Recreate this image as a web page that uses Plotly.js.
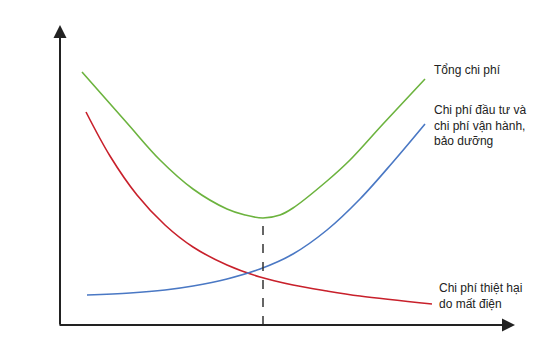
<!DOCTYPE html>
<html>
<head>
<meta charset="utf-8">
<script src="https://cdn.plot.ly/plotly-3.0.1.min.js"></script>
<style>html,body{margin:0;padding:0;background:#fff;}#chart{width:549px;height:355px;}</style>
</head>
<body>
<div id="chart"></div>
<script>
// Tổng chi phí (total cost)
const totalX = [22, 67, 100, 133, 167, 185, 203, 220, 233, 267, 290, 323, 365];
const totalY = [253, 202, 165, 136, 116, 110, 107, 110, 117, 144, 165, 201, 246];
// Chi phí đầu tư và vận hành, bảo dưỡng (investment + O&M cost)
const investX = [27, 70, 105, 133, 167, 200, 233, 267, 300, 333, 365];
const investY = [30, 32, 35, 39, 46, 56, 71, 95, 126, 163, 201];
// Chi phí thiệt hại do mất điện (outage loss cost)
const lossX = [26, 50, 77, 105, 133, 167, 200, 233, 267, 300, 372];
const lossY = [213, 169, 130, 100, 78, 60, 48, 40, 34, 29, 21];

const labels = {
  yAxis: 'Chi phí',
  xAxis: 'Mức đầu tư',
  optimum: 'Điểm tối ưu',
  total: 'Tổng chi phí',
  invest: 'Chi phí đầu tư và<br>chi phí vận hành,<br>bảo dưỡng',
  loss: 'Chi phí thiệt hại<br>do mất điện'
};

const XMAX = 455, YMAX = 300;
let minIdx = 0;
totalY.forEach((v, i) => { if (v < totalY[minIdx]) minIdx = i; });
const optX = totalX[minIdx], optY = totalY[minIdx];

const font = {family: 'Liberation Sans, Arial, sans-serif', size: 12, color: '#222'};
const lineT = (x, y, color) => ({x, y, mode: 'lines', type: 'scatter',
  line: {color, width: 1.6, shape: 'spline', smoothing: 1}, hoverinfo: 'skip', showlegend: false, cliponaxis: false});

const traces = [
  lineT(lossX, lossY, '#c8202b'),
  lineT(investX, investY, '#4a78c4'),
  lineT(totalX, totalY, '#6cb33e')
];

const ann = (text, x, y, xanchor, yanchor) => ({text, x, y, xref: 'x', yref: 'y', xanchor, yanchor,
  showarrow: false, align: 'left', font});

const layout = {
  width: 549, height: 355,
  margin: {l: 60, r: 34, t: 25, b: 30},
  paper_bgcolor: '#fff', plot_bgcolor: '#fff',
  xaxis: {range: [0, XMAX], visible: false, fixedrange: true},
  yaxis: {range: [0, YMAX], visible: false, fixedrange: true},
  shapes: [
    {type: 'line', xref: 'x', yref: 'y', x0: optX, x1: optX, y0: 0, y1: optY,
     line: {color: '#333', width: 1.5, dash: 'dash'}}
  ],
  annotations: [
    {x: 0, y: YMAX, ax: 0, ay: -1, xref: 'x', yref: 'y', axref: 'x', ayref: 'y', text: '',
     showarrow: true, arrowhead: 2, arrowsize: 1.3, arrowwidth: 2, arrowcolor: '#222'},
    {x: XMAX, y: 0, ax: -2, ay: 0, xref: 'x', yref: 'y', axref: 'x', ayref: 'y', text: '',
     showarrow: true, arrowhead: 2, arrowsize: 1.3, arrowwidth: 2, arrowcolor: '#222'},
    ann(labels.yAxis, -55, 310, 'left', 'middle'),
    ann(labels.total, 372, 255, 'left', 'middle'),
    ann(labels.invest, 372, 200, 'left', 'middle'),
    ann(labels.loss, 377, 29, 'left', 'middle'),
    ann(labels.optimum, optX, -22, 'center', 'middle'),
    ann(labels.xAxis, 423, -21, 'left', 'middle')
  ]
};

Plotly.newPlot('chart', traces, layout, {staticPlot: true, displayModeBar: false});
</script>
</body>
</html>
